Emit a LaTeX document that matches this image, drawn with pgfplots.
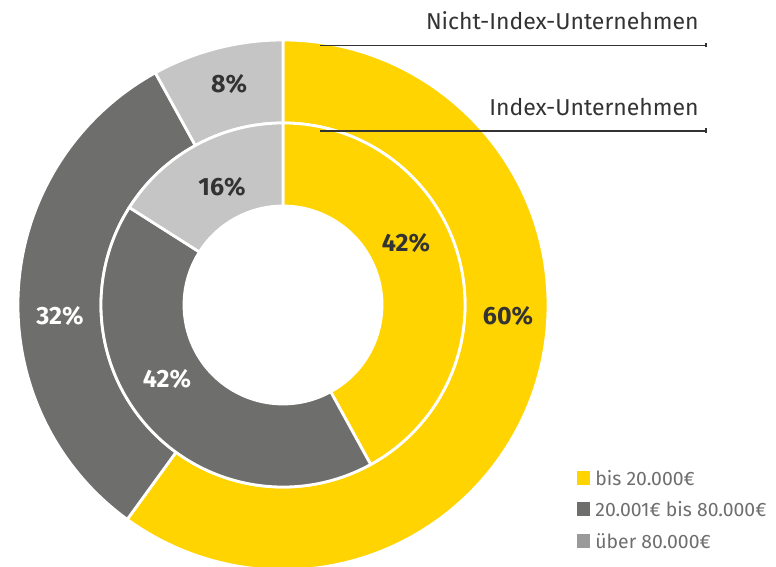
\documentclass[border=0pt]{standalone}
\usepackage{fontspec}
\setmainfont{Fira Sans}
\usepackage{pgfplots}
\pgfplotsset{compat=1.18}
\usetikzlibrary{calc}

\definecolor{eyyellow}{HTML}{FFD400}
\definecolor{eydark}{HTML}{6E6E6D}
\definecolor{eylight}{HTML}{C4C5C4}
\definecolor{eymid}{HTML}{9A9A9A}
\definecolor{eytext}{HTML}{333333}
\definecolor{eylegend}{HTML}{6E6E6E}

% ring segment: inner r, outer r (px), start %, end %, colour
\newcommand{\seg}[5]{%
  \fill[#5, draw=white, line width=1.4pt]
    ($(c)+({90-3.6*#3}:{#2*0.5pt})$)
    arc[start angle={90-3.6*#3}, end angle={90-3.6*#4}, radius={#2*0.5pt}]
    -- ($(c)+({90-3.6*#4}:{#1*0.5pt})$)
    arc[start angle={90-3.6*#4}, end angle={90-3.6*#3}, radius={#1*0.5pt}]
    -- cycle;}

\begin{document}
\begin{tikzpicture}
\begin{axis}[hide axis, x=0.5pt, y=0.5pt,
    xmin=0, xmax=776, ymin=0, ymax=567, clip=false]
\coordinate (c) at (axis cs:283,262);
% Nicht-Index-Unternehmen (outer): 60 / 32 / 8
\seg{182}{265}{0}{60}{eyyellow}
\seg{182}{265}{60}{92}{eydark}
\seg{182}{265}{92}{100}{eylight}
% Index-Unternehmen (inner): 42 / 42 / 16
\seg{99}{182}{0}{42}{eyyellow}
\seg{99}{182}{42}{84}{eydark}
\seg{99}{182}{84}{100}{eylight}

\begin{scope}[font=\fontsize{12.5}{14}\selectfont\bfseries]
\node[eytext] at (axis cs:508,251) {60\%};
\node[white] at (axis cs:60,251) {32\%};
\node[eytext] at (axis cs:229,483) {8\%};
\node[eytext] at (axis cs:406,324) {42\%};
\node[white] at (axis cs:167,188) {42\%};
\node[eytext] at (axis cs:222,380) {16\%};
\end{scope}

% series callouts
\draw[eytext, line width=0.6pt] (axis cs:320,521.5) -- (axis cs:706,521.5);
\draw[eytext, line width=0.6pt] (axis cs:706,519.5) -- (axis cs:706,524);
\draw[eytext, line width=0.6pt] (axis cs:320,436) -- (axis cs:706,436);
\draw[eytext, line width=0.6pt] (axis cs:706,434) -- (axis cs:706,438.5);
\node[eytext, anchor=east, inner sep=0pt, font=\fontsize{11.5}{13}\selectfont]
  at (axis cs:699,546) {Nicht-Index-Unternehmen};
\node[eytext, anchor=east, inner sep=0pt, font=\fontsize{11.5}{13}\selectfont]
  at (axis cs:699,460) {Index-Unternehmen};

% legend
\fill[eyyellow] (axis cs:577,82) rectangle (axis cs:590,96);
\fill[eydark] (axis cs:577,51) rectangle (axis cs:590,65);
\fill[eymid] (axis cs:577,19) rectangle (axis cs:590,33);
\begin{scope}[every node/.style={anchor=west, inner sep=0pt, eylegend,
    font=\fontsize{9.7}{11}\selectfont}]
\node at (axis cs:595,89) {bis 20.000€};
\node at (axis cs:595,58) {20.001€ bis 80.000€};
\node at (axis cs:595,26) {über 80.000€};
\end{scope}
\end{axis}
\pgfresetboundingbox
\path[use as bounding box] (0,0) rectangle (388pt,283.5pt);
\end{tikzpicture}
\end{document}
